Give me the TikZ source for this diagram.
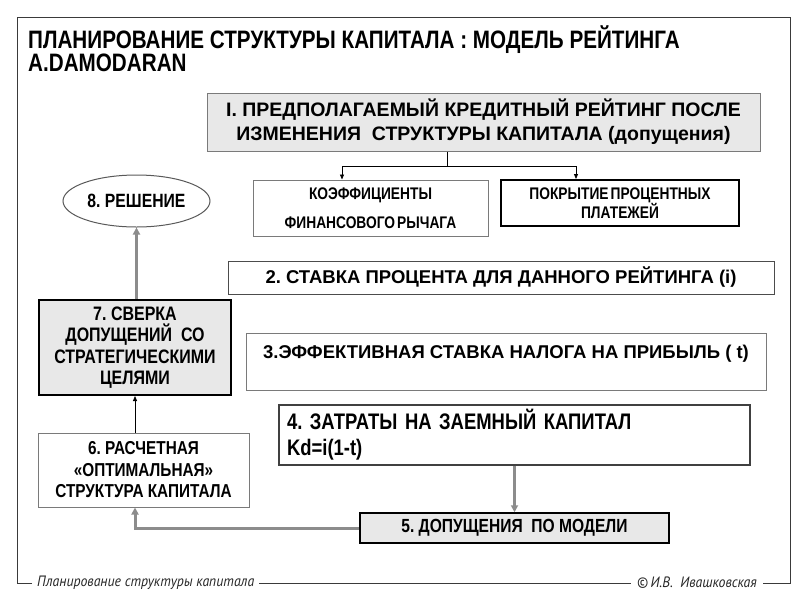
\documentclass[tikz,border=0pt]{standalone}
\usepackage{fontspec}
\setmainfont{Liberation Sans}
\newfontfamily\narf[FakeStretch=0.82]{Liberation Sans}
\newfontfamily\footf[FakeStretch=0.92]{PT Sans}
\usetikzlibrary{arrows.meta,shapes.geometric}
\definecolor{boxfill}{HTML}{E8E8E8}
\definecolor{arrgray}{HTML}{8C8C8C}
\definecolor{edgegray}{HTML}{7A7A7A}
\definecolor{framecol}{HTML}{3A3A3A}
\tikzset{
  box/.style={draw, rectangle, inner sep=0pt, align=center},
  titletxt/.style={inner sep=0pt, anchor=base west, font=\narf\bfseries\fontsize{25.2}{24}\selectfont},
  thinline/.style={draw=black, line width=0.8pt},
  thinarrow/.style={thinline, -{Triangle[length=5pt,width=4pt]}},
  grayarrow/.style={draw=arrgray, line width=3pt, -{Triangle[length=7pt,width=7pt]}},
  framestyle/.style={draw=framecol, line width=1pt},
  foottxt/.style={inner ysep=0pt, text=black!85, font=\footf\itshape\fontsize{15}{18}\selectfont}
}
\begin{document}
\frenchspacing
\begin{tikzpicture}[x=1pt,y=-1pt]
\useasboundingbox (0,0) rectangle (800,600);
% title
\node[titletxt] (t1) at (28,48) {ПЛАНИРОВАНИЕ СТРУКТУРЫ КАПИТАЛА : МОДЕЛЬ РЕЙТИНГА};
\node[titletxt] (t2) at (28,71) {A.DAMODARAN};
% boxes
\node[box, fill=boxfill, draw=edgegray, line width=1pt, minimum width=553, minimum height=58,
  font=\bfseries\fontsize{19.5}{24}\selectfont] (b1) at (483.5,122)
  {I. ПРЕДПОЛАГАЕМЫЙ КРЕДИТНЫЙ РЕЙТИНГ ПОСЛЕ\\ИЗМЕНЕНИЯ \ СТРУКТУРЫ КАПИТАЛА (допущения)};
\node[box, draw=edgegray, line width=1pt, minimum width=235, minimum height=56,
  font=\narf\bfseries\fontsize{16.8}{29}\selectfont] (k1) at (370.5,208)
  {КОЭФФИЦИЕНТЫ\\ФИНАНСОВОГО\hspace{0.12em}РЫЧАГА};
\node[box, draw=black, line width=2pt, minimum width=238, minimum height=46,
  font=\narf\bfseries\fontsize{16.8}{19}\selectfont] (k2) at (620,203)
  {ПОКРЫТИЕ\hspace{0.12em}ПРОЦЕНТНЫХ\\ПЛАТЕЖЕЙ};
\node[box, draw=black!70, line width=1pt, minimum width=546, minimum height=33,
  font=\bfseries\fontsize{18.5}{22}\selectfont] (b2) at (501,277.5)
  {2. СТАВКА ПРОЦЕНТА ДЛЯ ДАННОГО РЕЙТИНГА (i)};
\node[box, draw=edgegray, line width=1pt, minimum width=520, minimum height=57,
  text height=13pt, text depth=19pt,
  font=\bfseries\fontsize{18.5}{22}\selectfont] (b3) at (506,361.5)
  {3.ЭФФЕКТИВНАЯ СТАВКА НАЛОГА НА ПРИБЫЛЬ ( t)};
\node[box, draw=black!75, line width=1.2pt, align=left, text width=455pt, inner xsep=8pt,
  minimum height=60, font=\narf\bfseries\fontsize{22.5}{26}\selectfont] (b4) at (514.5,435)
  {4. ЗАТРАТЫ НА ЗАЕМНЫЙ КАПИТАЛ\\Kd=i(1-t)};
\node[box, fill=boxfill, draw=black, line width=1.5pt, minimum width=309, minimum height=30,
  font=\narf\bfseries\fontsize{19}{20}\selectfont] (b5) at (514.5,528)
  {5. ДОПУЩЕНИЯ \ ПО МОДЕЛИ};
\node[box, draw=edgegray, line width=1pt, minimum width=211, minimum height=74,
  font=\narf\bfseries\fontsize{18.7}{21.5}\selectfont] (b6) at (143.5,470)
  {6. РАСЧЕТНАЯ\\«ОПТИМАЛЬНАЯ»\\СТРУКТУРА КАПИТАЛА};
\node[box, fill=boxfill, draw=black, line width=2pt, minimum width=192, minimum height=95,
  font=\narf\bfseries\fontsize{19.5}{21.5}\selectfont] (b7) at (135,347.5)
  {7. СВЕРКА\\ДОПУЩЕНИЙ \ СО\\СТРАТЕГИЧЕСКИМИ\\ЦЕЛЯМИ};
\node[ellipse, draw=black!65, line width=1pt, inner sep=0pt, minimum width=147, minimum height=52,
  font=\narf\bfseries\fontsize{19.2}{20}\selectfont] (e8) at (136.5,201) {8. РЕШЕНИЕ};
% footer
\node[foottxt, inner xsep=5pt, anchor=west] (f1) at (32,583) {Планирование структуры капитала};
\node[foottxt, inner xsep=6pt, anchor=east] (f2) at (763,583) {©\,И.В. \ Ивашковская};
% frame
\draw[framestyle] (f1.west) -- (17,583) -- (17,17) -- (790,17) -- (790,583) -- (f2.east);
\draw[framestyle] (f1.east) -- (f2.west);
% connectors
\coordinate (j) at (447,166);
\coordinate (ja) at (342,166);
\coordinate (jb) at (576,166);
\draw[thinline] (b1.south -| j) -- (j);
\draw[thinline] (ja) -- (jb);
\draw[thinarrow] (ja) -- (ja |- k1.north);
\draw[thinarrow] (jb) -- (jb |- k2.north);
\draw[grayarrow] (e8.south |- b7.north) -- (e8.south);
\draw[thinarrow] (b7.south |- b6.north) -- (b7.south);
\draw[grayarrow] (b5.north |- b4.south) -- (b5.north);
\draw[grayarrow] (b5.west) -| (b6.south -| b7.south);
\end{tikzpicture}
\end{document}
